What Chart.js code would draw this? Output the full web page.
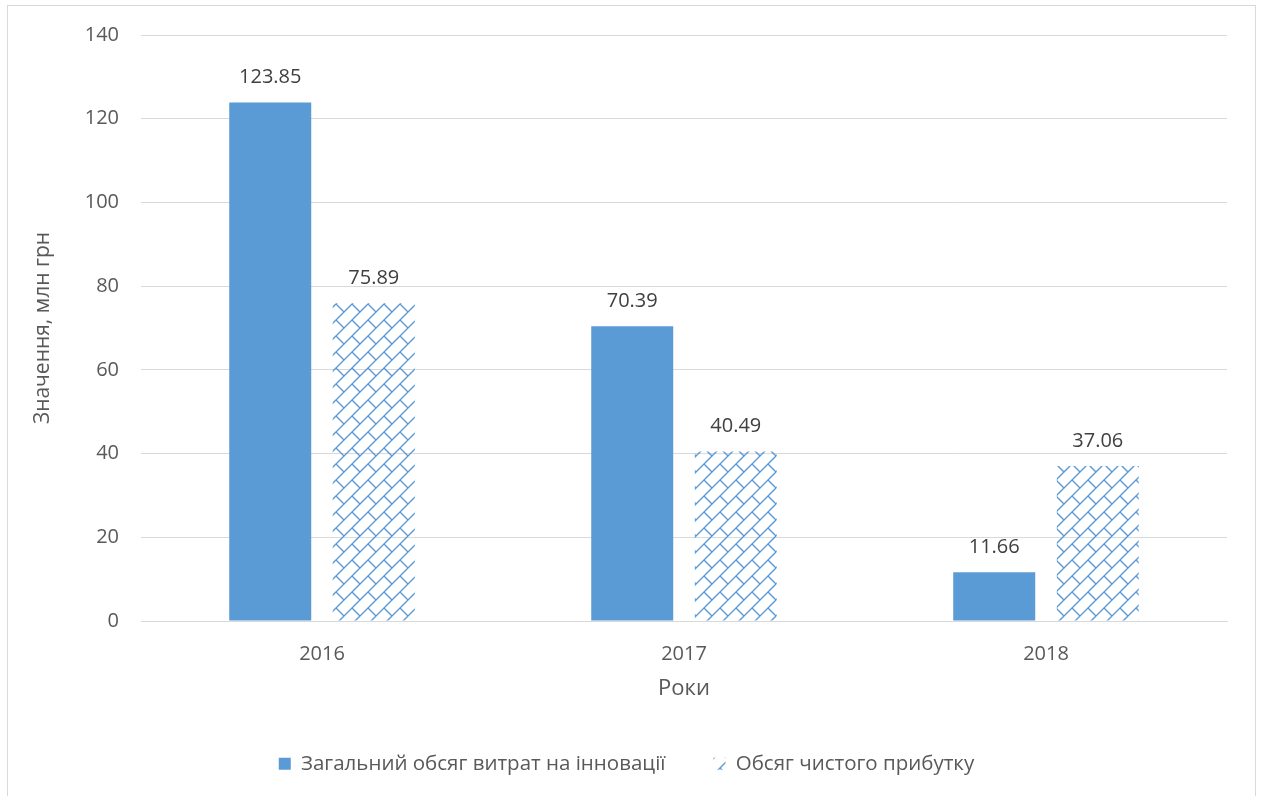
<!DOCTYPE html>
<html><head><meta charset="utf-8">
<script src="https://cdn.jsdelivr.net/npm/chart.js@4/dist/chart.umd.min.js"></script>
<style>html,body{margin:0;padding:0;background:#fff}#wrap{width:1261px;height:796px}</style>
</head><body><div id="wrap"><canvas id="c" width="1261" height="796"></canvas></div>
<script>
const categories = ['2016', '2017', '2018'];
const innovationCosts = [123.85, 70.39, 11.66];
const netProfit = [75.89, 40.49, 37.06];
const seriesNames = ['Загальний обсяг витрат на інновації', 'Обсяг чистого прибутку'];
const yTicks = [0, 20, 40, 60, 80, 100, 120, 140];

const BLUE = '#5b9bd5';
const FONT = "'Open Sans', sans-serif";

function makePattern() {
  const T = 32;
  const t = document.createElement('canvas');
  t.width = T; t.height = T;
  const g = t.getContext('2d');
  g.strokeStyle = BLUE; g.lineWidth = 1.4;
  g.beginPath();
  for (let s = -32; s <= 96; s += 16) { g.moveTo(s + 2, -2); g.lineTo(-2, s + 2); }
  for (let k = -4; k <= 6; k++) {
    const s0 = 16 * k, s1 = s0 + 16;
    const off = (((k % 2) + 2) % 2) * 16;
    for (let c = -96 + off; c <= 96; c += 32) {
      g.moveTo((s0 + c) / 2, (s0 - c) / 2);
      g.lineTo((s1 + c) / 2, (s1 - c) / 2);
    }
  }
  g.stroke();
  return document.getElementById('c').getContext('2d').createPattern(t, 'repeat');
}
const pattern = makePattern();

const frame = {
  id: 'frame',
  beforeDraw(chart) {
    const ctx = chart.ctx;
    ctx.save();
    ctx.fillStyle = '#fff';
    ctx.fillRect(0, 0, chart.width, chart.height);
    ctx.strokeStyle = '#d9d9d9'; ctx.lineWidth = 1;
    ctx.strokeRect(7.5, 5.5, 1248, 800);
    ctx.restore();
  }
};

const dataLabels = {
  id: 'dataLabels',
  afterDatasetsDraw(chart) {
    const ctx = chart.ctx;
    ctx.save();
    ctx.font = '20px ' + FONT;
    ctx.fillStyle = '#404040';
    ctx.textAlign = 'center';
    ctx.textBaseline = 'middle';
    chart.data.datasets.forEach((ds, i) => {
      chart.getDatasetMeta(i).data.forEach((bar, j) => {
        ctx.fillText(ds.data[j].toFixed(2), bar.x, bar.y - 25);
      });
    });
    ctx.restore();
  }
};

new Chart(document.getElementById('c'), {
  type: 'bar',
  data: {
    labels: categories,
    datasets: [
      { label: seriesNames[0], data: innovationCosts, backgroundColor: BLUE },
      { label: seriesNames[1], data: netProfit, backgroundColor: pattern }
    ]
  },
  options: {
    responsive: false,
    animation: false,
    devicePixelRatio: 1,
    layout: { padding: { left: 26, right: 34, top: 35, bottom: 12 } },
    datasets: { bar: { categoryPercentage: 0.572, barPercentage: 0.792 } },
    plugins: {
      legend: {
        position: 'bottom',
        labels: {
          font: { family: FONT, size: 20.5 }, color: '#595959',
          boxWidth: 12, boxHeight: 12, padding: 48
        }
      },
      tooltip: { enabled: false }
    },
    scales: {
      x: {
        grid: { display: false, drawTicks: false },
        border: { color: '#d9d9d9' },
        ticks: { font: { family: FONT, size: 20 }, color: '#595959', padding: 21 },
        title: { display: true, text: 'Роки', font: { family: FONT, size: 22 }, color: '#595959', padding: { top: 12 } },
        afterFit(scale) {
          const lh = scale.chart.legend ? scale.chart.legend.height : 0;
          scale.height = 796 - 12 - lh - 621;
        }
      },
      y: {
        min: 0, max: 140,
        afterBuildTicks(scale) { scale.ticks = yTicks.map(v => ({ value: v })); },
        grid: { color: '#d9d9d9', drawTicks: false },
        border: { display: false },
        ticks: { font: { family: FONT, size: 20 }, color: '#595959', padding: 22 },
        title: { display: true, text: 'Значення, млн грн', font: { family: FONT, size: 21 }, color: '#595959' },
        afterFit(scale) { scale.width = 115; }
      }
    }
  },
  plugins: [frame, dataLabels]
});
</script></body></html>
